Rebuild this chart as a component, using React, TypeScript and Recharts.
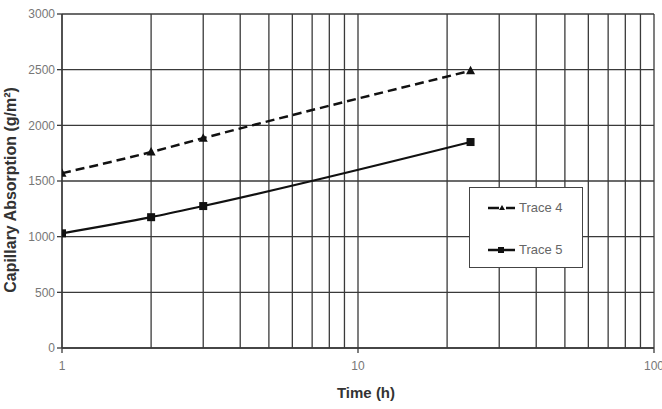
import React from "react";
import {
  LineChart,
  Line,
  XAxis,
  YAxis,
  CartesianGrid,
  Label,
} from "recharts";

// ── Data ──────────────────────────────────────────────────────────────────────

const timeHours = [1, 2, 3, 24];
const trace4 = [1570, 1760, 1885, 2490];
const trace5 = [1030, 1175, 1275, 1850];

const xTicks = [1, 2, 3, 4, 5, 6, 7, 8, 9, 10, 20, 30, 40, 50, 60, 70, 80, 90, 100];
const xMajorTicks = [1, 10, 100];
const yTicks = [0, 500, 1000, 1500, 2000, 2500, 3000];

const data = timeHours.map((t, i) => ({ t, trace4: trace4[i], trace5: trace5[i] }));

// ── Styles ────────────────────────────────────────────────────────────────────

const FONT = "'Liberation Sans', Arial, sans-serif";
const GRID = "#3a3a3a";
const TICK_COLOR = "#777";

function XTick({ x, y, payload }: any) {
  const v = payload?.value;
  if (!xMajorTicks.includes(v)) return null;
  return (
    <g>
      <line x1={x} y1={y - 8} x2={x} y2={y - 3} stroke={GRID} strokeWidth={1.3} />
      <text x={x} y={y + 14} textAnchor="middle" fontSize={12} fill={TICK_COLOR} fontFamily={FONT}>
        {v}
      </text>
    </g>
  );
}

function Triangle({ cx, cy }: any) {
  if (cx == null || cy == null) return null;
  return <path d={`M${cx},${cy - 5} L${cx + 4.5},${cy + 3.5} L${cx - 4.5},${cy + 3.5} Z`} fill="#111" />;
}

function Square({ cx, cy }: any) {
  if (cx == null || cy == null) return null;
  return <rect x={cx - 4} y={cy - 4} width={8} height={8} fill="#111" />;
}

function LegendBox() {
  return (
    <div
      style={{
        position: "absolute",
        left: 469,
        top: 187,
        width: 114,
        height: 81,
        background: "#fff",
        border: "1.5px solid #444",
        boxSizing: "border-box",
        fontFamily: FONT,
        fontSize: 13,
        color: "#666",
      }}
    >
      <div style={{ position: "absolute", left: 17, top: 12, display: "flex", alignItems: "center" }}>
        <svg width={30} height={10}>
          <line x1={1} y1={5} x2={12} y2={5} stroke="#111" strokeWidth={2.5} />
          <line x1={19} y1={5} x2={28} y2={5} stroke="#111" strokeWidth={2.5} />
          <path d="M15,2 L18,7 L12,7 Z" fill="#111" />
        </svg>
        <span style={{ marginLeft: 2 }}>Trace 4</span>
      </div>
      <div style={{ position: "absolute", left: 17, top: 54, display: "flex", alignItems: "center" }}>
        <svg width={30} height={10}>
          <line x1={1} y1={5} x2={28} y2={5} stroke="#111" strokeWidth={2.5} />
          <rect x={11} y={2} width={6} height={6} fill="#111" />
        </svg>
        <span style={{ marginLeft: 2 }}>Trace 5</span>
      </div>
    </div>
  );
}

export default function App() {
  return (
    <div style={{ position: "absolute", left: 0, top: 0, width: 662, height: 409, background: "#fff" }}>
      <LineChart
        width={662}
        height={409}
        data={data}
        margin={{ top: 14, right: 8, bottom: 0, left: 0 }}
      >
        <CartesianGrid stroke={GRID} strokeWidth={1.3} />
        <XAxis
          dataKey="t"
          type="number"
          scale="log"
          domain={[1, 100]}
          ticks={xTicks}
          interval={0}
          allowDataOverflow
          axisLine={{ stroke: GRID, strokeWidth: 1.3 }}
          tickLine={false}
          tick={<XTick />}
          height={61}
        >
          <Label
            content={() => (
              <text x={366} y={398} textAnchor="middle" fontFamily={FONT} fontSize={15} fontWeight="bold" fill="#333">
                Time (h)
              </text>
            )}
          />
        </XAxis>
        <YAxis
          type="number"
          domain={[0, 3000]}
          ticks={yTicks}
          interval={0}
          width={62}
          axisLine={{ stroke: GRID, strokeWidth: 1.3 }}
          tickLine={{ stroke: GRID, strokeWidth: 1.3 }}
          tickSize={5}
          tick={{ fontSize: 12, fill: TICK_COLOR, fontFamily: FONT }}
        >
          <Label
            content={() => (
              <text
                transform="translate(16,190) rotate(-90)"
                textAnchor="middle"
                fontFamily={FONT}
                fontSize={16}
                fontWeight="bold"
                fill="#333"
              >
                Capillary Absorption (g/m²)
              </text>
            )}
          />
        </YAxis>
        <Line
          type="monotone"
          dataKey="trace4"
          stroke="#111"
          strokeWidth={2.5}
          strokeDasharray="9 5"
          dot={<Triangle />}
          activeDot={false}
          isAnimationActive={false}
        />
        <Line
          type="monotone"
          dataKey="trace5"
          stroke="#111"
          strokeWidth={2.2}
          dot={<Square />}
          activeDot={false}
          isAnimationActive={false}
        />
      </LineChart>
      <LegendBox />
    </div>
  );
}
